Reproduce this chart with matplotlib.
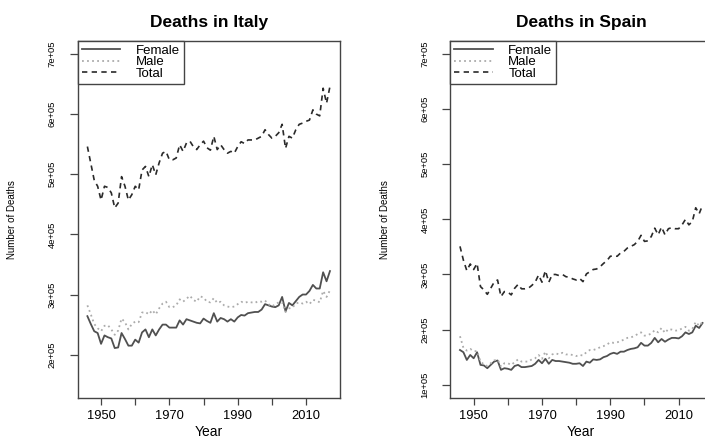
import numpy as np
import matplotlib
matplotlib.use("Agg")
import matplotlib.pyplot as plt

YEARS = np.arange(1946, 2018)

# deaths per year, in thousands
ITALY_FEMALE = [264, 251, 239, 236, 218, 232, 229, 227, 211, 212, 236, 226, 215, 215, 225, 220,
                237, 242, 229, 242, 232, 242, 250, 250, 245, 245, 245, 257, 250, 259, 257, 255,
                253, 252, 260, 256, 253, 269, 255, 261, 259, 255, 259, 255, 262, 266, 265, 269,
                270, 271, 271, 275, 284, 282, 280, 279, 282, 296, 272, 286, 282, 289, 296, 300,
                300, 306, 316, 310, 310, 337, 322, 339]
ITALY_MALE = [282, 267, 251, 244, 239, 248, 249, 242, 233, 240, 260, 254, 242, 251, 255, 254,
              270, 271, 267, 274, 267, 277, 285, 288, 279, 279, 282, 292, 288, 293, 298, 291,
              288, 297, 295, 288, 287, 294, 286, 288, 282, 280, 279, 280, 284, 288, 286, 288,
              287, 286, 289, 288, 290, 284, 280, 284, 287, 287, 271, 277, 278, 285, 287, 285,
              288, 284, 291, 290, 287, 306, 296, 307]
ITALY_TOTAL = [546, 518, 490, 480, 457, 480, 478, 469, 444, 452, 496, 480, 457, 466, 480, 474,
               507, 513, 496, 516, 499, 519, 535, 538, 524, 524, 527, 549, 538, 552, 555, 546,
               541, 549, 555, 544, 540, 563, 541, 549, 541, 535, 538, 535, 546, 554, 551, 557,
               557, 557, 560, 563, 574, 566, 560, 563, 569, 583, 543, 563, 560, 574, 583, 585,
               588, 590, 607, 600, 597, 643, 618, 646]

SPAIN_FEMALE = [163, 159, 145, 154, 148, 159, 136, 135, 130, 136, 142, 144, 127, 130, 129, 127,
                134, 136, 132, 132, 133, 134, 138, 145, 139, 147, 138, 145, 143, 143, 142, 141,
                140, 138, 138, 139, 134, 142, 140, 146, 145, 146, 150, 152, 156, 158, 156, 160,
                160, 163, 165, 166, 168, 176, 171, 171, 176, 185, 177, 183, 178, 182, 185, 185,
                184, 188, 195, 192, 195, 207, 203, 212]
SPAIN_MALE = [188, 167, 162, 165, 161, 161, 142, 137, 134, 139, 144, 146, 133, 139, 139, 136,
              141, 146, 142, 142, 142, 146, 148, 154, 147, 160, 148, 155, 157, 155, 158, 155,
              155, 154, 152, 154, 153, 159, 163, 163, 165, 168, 170, 173, 177, 176, 177, 179,
              182, 185, 186, 188, 192, 195, 189, 190, 193, 199, 195, 203, 194, 201, 200, 198,
              199, 202, 205, 198, 201, 214, 207, 214]
SPAIN_TOTAL = [351, 326, 307, 319, 309, 320, 278, 272, 264, 275, 286, 290, 260, 269, 268, 263,
               275, 282, 274, 274, 275, 280, 286, 299, 286, 307, 286, 300, 300, 298, 300, 296,
               295, 292, 290, 293, 287, 301, 305, 309, 310, 314, 320, 325, 333, 334, 333, 339,
               342, 348, 351, 354, 360, 371, 360, 361, 369, 384, 372, 386, 372, 383, 385, 383,
               383, 390, 400, 390, 396, 421, 410, 426]

ITALY_YTICKS = [2e5, 3e5, 4e5, 5e5, 6e5, 7e5]
SPAIN_YTICKS = [1e5, 2e5, 3e5, 4e5, 5e5, 6e5, 7e5]
XTICKS = [1950, 1960, 1970, 1980, 1990, 2000, 2010]

FRAME = "#444444"
plt.rcParams["font.family"] = ["Liberation Sans", "DejaVu Sans"]


def r_limits(lo, hi):
    """Pad a range by 4% on both ends, like R's default axis style."""
    d = (hi - lo) * 0.04
    return lo - d, hi + d


def death_panel(ax, title, female, male, total, ylim, yticks):
    k = 1000.0
    ax.plot(YEARS, np.array(female) * k, color="#505050", lw=1.3, label="Female")
    ax.plot(YEARS, np.array(male) * k, color="#ababab", lw=1.3,
            linestyle=(0, (1, 1.8)), label="Male")
    ax.plot(YEARS, np.array(total) * k, color="#2a2a2a", lw=1.2,
            linestyle=(0, (3.2, 2.6)), label="Total")

    ax.set_xlim(*r_limits(YEARS[0], YEARS[-1]))
    ax.set_ylim(*r_limits(*ylim))

    ax.set_xticks(XTICKS)
    ax.set_xticklabels([str(y) if y % 20 == 10 else "" for y in XTICKS], fontsize=9.3)
    ax.set_yticks(yticks)
    ax.set_yticklabels(["%de+05" % int(v / 1e5) for v in yticks], rotation=90,
                       va="center", fontsize=6.8)
    ax.tick_params(axis="x", length=5, width=0.9, color=FRAME, pad=3.5)
    ax.tick_params(axis="y", length=6, width=0.9, color=FRAME, pad=9)
    for s in ax.spines.values():
        s.set_color(FRAME)
        s.set_linewidth(1.0)

    ax.set_title(title, fontsize=12.5, fontweight="bold", pad=10)
    ax.set_xlabel("Year", fontsize=10)
    ax.xaxis.set_label_coords(0.5, -0.077)
    ax.set_ylabel("Number of Deaths", fontsize=7)
    ax.yaxis.set_label_coords(-0.232, 0.5)

    leg = ax.legend(loc="upper left", bbox_to_anchor=(0, 1), borderaxespad=0,
                    fontsize=9.5, labelspacing=-0.05, handlelength=2.9,
                    handletextpad=1.2, borderpad=0.3, fancybox=False,
                    framealpha=1, edgecolor=FRAME)
    leg.get_frame().set_linewidth(1.0)


fig = plt.figure(figsize=(7.05, 4.40), dpi=100)
ax_it = fig.add_axes([0.1102, 0.0955, 0.3716, 0.812])
ax_es = fig.add_axes([0.6387, 0.0955, 0.3716, 0.812])

death_panel(ax_it, "Deaths in Italy", ITALY_FEMALE, ITALY_MALE, ITALY_TOTAL,
            (1.5e5, 7e5), ITALY_YTICKS)
death_panel(ax_es, "Deaths in Spain", SPAIN_FEMALE, SPAIN_MALE, SPAIN_TOTAL,
            (1e5, 7e5), SPAIN_YTICKS)

fig.savefig("out.png", dpi=100)
